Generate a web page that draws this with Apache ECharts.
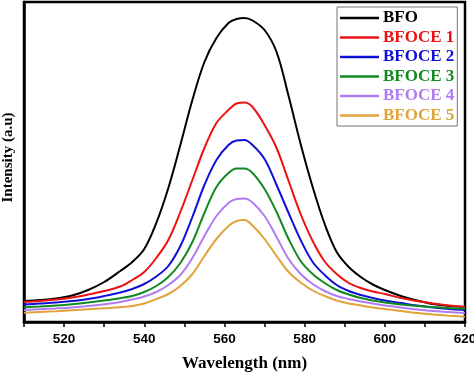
<!DOCTYPE html>
<html>
<head>
<meta charset="utf-8">
<script src="https://cdn.jsdelivr.net/npm/echarts@6/dist/echarts.min.js"></script>
<style>html,body{margin:0;padding:0;background:#fff;}#c{width:474px;height:373px;}</style>
</head>
<body>
<div id="c"></div>
<script>
var wavelengths = [510,514,518,522,526,530,534,537,540,543,546,549,552,555,558,561,563,565,567,570,573,576,579,582,585,588,591,594,597,600,604,608,612,616,620];
var xTicks = [520,540,560,580,600,620];
var seriesNames = ['BFO','BFOCE 1','BFOCE 2','BFOCE 3','BFOCE 4','BFOCE 5'];
var bfo    = [21,22,23.5,26.5,32,40,51,60,73,99,134,177,222,260,284,299,303,304,301.5,292,270,226,178,135,98,70,55,45,37.5,32,26,21.5,18,16,15];
var bfoce1 = [20,21,22.5,24.5,27.5,31,35.5,42,50,64,82,110,142,174,199,212,218.5,219.5,215,197,174,141,108,81,60.5,48,39,34,30.5,28,24,21,18.5,16.5,15];
var bfoce2 = [17.5,18.5,19.5,21,23,26,29.5,33,38,45.5,56,76,105,137,162,177,181.5,182,177,163,137,109,82,60,47,37,31,27,24,21.5,19,16.5,14.5,13,12];
var bfoce3 = [14.7,15.5,16.5,17.8,19.5,21.5,23.8,26,30,36,45,59,80,109,135,149,153.5,153.5,149,133,110,83,61,48,39,32,27.5,24,21.5,19.5,17.5,16,15,14,13.5];
var bfoce4 = [12,12.8,13.6,14.6,16,17.8,20,22.5,25.5,30,37,47,64,86,106,119,123,123.5,119.5,106,85,63,48,38,31,26,23,20.5,18.5,16.5,14.5,12.5,11,10,9];
var bfoce5 = [9.3,10,10.8,11.8,12.8,13.8,14.8,16,18.5,23,28,36,48,66,83,96,101,102,96.5,83,66,50,39.5,31.5,26,21.5,18.5,16.5,14.5,13,11,9,7.5,6.3,5.3];
var colors = ['#000000','#ee1111','#1010d8','#118a22','#b07cf2','#e0a43a'];
var allData = [bfo,bfoce1,bfoce2,bfoce3,bfoce4,bfoce5];

var series = allData.map(function(vals, i){
  return {
    name: seriesNames[i], type: 'line', smooth: 0.35, symbol: 'none',
    lineStyle: {color: colors[i], width: 2}, itemStyle: {color: colors[i]},
    data: wavelengths.map(function(w, j){ return [w, vals[j]]; })
  };
});

var chart = echarts.init(document.getElementById('c'), null, {renderer:'canvas'});
chart.setOption({
  animation: false,
  backgroundColor: '#fff',
  grid: {left: 24, right: 9, top: 2, bottom: 51, containLabel: false, outerBoundsMode: 'none', show: true, borderColor: '#000', borderWidth: 2.5, backgroundColor: 'transparent'},
  legend: {
    orient: 'vertical', left: 337, top: 7,
    padding: [2.5, 3, 2, 3],
    itemWidth: 39, itemHeight: 2.5, itemGap: 2.5,
    borderColor: '#777', borderWidth: 1, borderRadius: 0, backgroundColor: '#fff',
    icon: 'rect',
    data: seriesNames.map(function(n, i){
      return {name: n, itemStyle: {color: colors[i]}, textStyle: {color: colors[i]}};
    }),
    textStyle: {fontFamily: 'Liberation Serif', fontWeight: 'bold', fontSize: 17, lineHeight: 17, padding: [0,0,0,-1]}
  },
  xAxis: {
    type: 'value', min: 510, max: 620, interval: 10,
    name: 'Wavelength (nm)', nameLocation: 'middle', nameGap: 33,
    nameTextStyle: {fontFamily: 'Liberation Serif', fontWeight: 'bold', fontSize: 17, color: '#000'},
    axisLine: {show: true, lineStyle: {color: '#000', width: 2.5}},
    axisTick: {show: true, inside: false, length: 5, lineStyle: {color: '#000', width: 1.5}},
    axisLabel: {
      margin: 10, color: '#000', fontFamily: 'Liberation Sans', fontWeight: 'bold', fontSize: 13.5,
      formatter: function(v){ return xTicks.indexOf(v) >= 0 ? String(v) : ''; }
    },
    splitLine: {show: false}
  },
  yAxis: {
    type: 'value', min: 0, max: 320,
    name: 'Intensity (a.u)', nameLocation: 'middle', nameGap: 8,
    nameTextStyle: {fontFamily: 'Liberation Serif', fontWeight: 'bold', fontSize: 15, color: '#000', padding: [0, 0, 0, 9]},
    axisLine: {show: true, lineStyle: {color: '#000', width: 2.5}},
    axisTick: {show: false}, axisLabel: {show: false}, splitLine: {show: false}
  },
  series: series
});
</script>
</body>
</html>
